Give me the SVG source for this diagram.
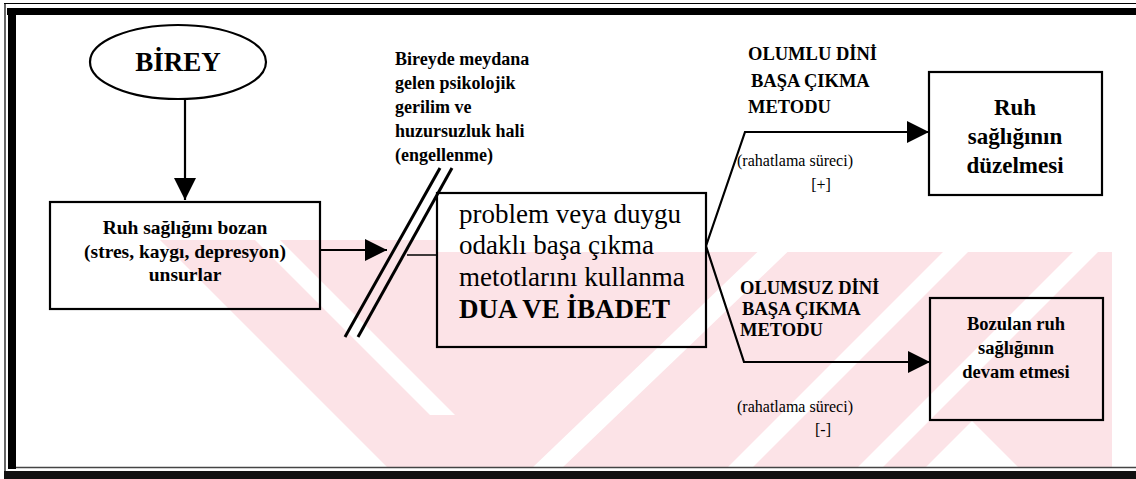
<svg xmlns="http://www.w3.org/2000/svg" width="1136" height="479" viewBox="0 0 1136 479">
<style>
text{font-family:"Liberation Serif","Tinos","Times New Roman","DejaVu Serif","Noto Serif",serif;fill:#000}
.b{font-weight:bold}
.m{text-anchor:middle}
.box{fill:none;stroke:#000;stroke-width:2.2}
.conn{fill:none;stroke:#000;stroke-width:2.2}
.wm{fill:#fce3e7}
.wg{fill:#fff}
</style>
<defs>
<marker id="arr" markerUnits="userSpaceOnUse" markerWidth="24" markerHeight="22" refX="22" refY="11" orient="auto">
<path d="M0,0 L22,11 L0,22 z" fill="#000"/>
</marker>
<clipPath id="wmclip"><polygon points="160,240 437,240 437,252 1112,252 1112,468 160,468"/></clipPath>
</defs>
<rect width="1136" height="479" fill="#fff"/>
<g id="watermark" clip-path="url(#wmclip)">
<polygon class="wm" points="160,240 1112,240 1112,468 388,468 160,240"/>
<polygon class="wg" points="255,240 280,240 455,415 430,415"/>
<polygon class="wg" points="770,240 800,240 562,468 532,468"/>
<polygon class="wg" points="955,240 980,240 752,468 727,468"/>
<polygon class="wg" points="1085,240 1110,240 882,468 857,468"/>
<polygon class="wg" points="925,468 972,421 1019,468"/>
</g>
<g id="frame">
<line x1="4" y1="3.5" x2="1136" y2="3.5" stroke="#000" stroke-width="1.2"/>
<rect x="7" y="8" width="1129" height="7" fill="#000"/>
<line x1="5" y1="3" x2="5" y2="471" stroke="#000" stroke-width="1.2"/>
<rect x="8" y="8" width="8" height="461" fill="#000"/>
<line x1="16" y1="467.5" x2="1136" y2="467.5" stroke="#444" stroke-width="1.5"/>
<rect x="4" y="471" width="1132" height="8" fill="#111"/>
</g>
<g id="connectors">
<line class="conn" x1="185" y1="100" x2="185" y2="200" marker-end="url(#arr)"/>
<line class="conn" x1="320" y1="250" x2="387" y2="250" marker-end="url(#arr)"/>
<line x1="407" y1="255" x2="437" y2="255" stroke="#000" stroke-width="1.5"/>
<line x1="345" y1="337" x2="440" y2="168" stroke="#000" stroke-width="3"/>
<line x1="358" y1="337" x2="452" y2="168" stroke="#000" stroke-width="3"/>
<path class="conn" d="M706,246 L745,132 L929,132" marker-end="url(#arr)"/>
<path class="conn" d="M706,246 L744,362 L930,362" marker-end="url(#arr)"/>
</g>
<g id="birey">
<ellipse cx="178" cy="62" rx="88" ry="37" fill="#fff" stroke="#000" stroke-width="2.2"/>
<text class="b m" x="178" y="71" font-size="27">BİREY</text>
</g>
<g id="stres">
<rect class="box" x="50" y="202" width="270" height="107"/>
<text class="b m" x="185" y="234" font-size="19.5">Ruh sağlığını bozan</text>
<text class="b m" x="185" y="258" font-size="19.5">(stres, kaygı, depresyon)</text>
<text class="b m" x="185" y="281" font-size="19.5">unsurlar</text>
</g>
<g id="gerilim">
<text class="b" x="395" y="65" font-size="18">Bireyde meydana</text>
<text class="b" x="395" y="89" font-size="18">gelen psikolojik</text>
<text class="b" x="395" y="113" font-size="18">gerilim ve</text>
<text class="b" x="395" y="137" font-size="18">huzursuzluk hali</text>
<text class="b" x="395" y="161" font-size="18">(engellenme)</text>
</g>
<g id="basacikma">
<rect class="box" x="437" y="193" width="269" height="154"/>
<text x="459" y="223" font-size="27">problem veya duygu</text>
<text x="459" y="254" font-size="27">odaklı başa çıkma</text>
<text x="459" y="286" font-size="27">metotlarını kullanma</text>
<text class="b" x="459" y="318" font-size="27">DUA VE İBADET</text>
</g>
<g id="olumlu">
<text class="b" x="748" y="60" font-size="18.5">OLUMLU DİNİ</text>
<text class="b" x="751" y="87" font-size="18.5">BAŞA ÇIKMA</text>
<text class="b" x="748" y="113" font-size="18.5">METODU</text>
<text class="m" x="795" y="166" font-size="16">(rahatlama süreci)</text>
<text class="m" x="821" y="190" font-size="16">[+]</text>
</g>
<g id="duzelme">
<rect class="box" x="929" y="72" width="173" height="123"/>
<text class="b m" x="1015" y="115" font-size="23">Ruh</text>
<text class="b m" x="1015" y="144" font-size="23">sağlığının</text>
<text class="b m" x="1015" y="173" font-size="23">düzelmesi</text>
</g>
<g id="olumsuz">
<text class="b" x="740" y="294" font-size="18.5">OLUMSUZ DİNİ</text>
<text class="b" x="742" y="315" font-size="18.5">BAŞA ÇIKMA</text>
<text class="b" x="740" y="336" font-size="18.5">METODU</text>
<text class="m" x="795" y="412" font-size="16">(rahatlama süreci)</text>
<text class="m" x="823" y="435" font-size="16">[-]</text>
</g>
<g id="bozulan">
<rect class="box" x="930" y="298" width="173" height="122"/>
<text class="b m" x="1016" y="330" font-size="18.5">Bozulan ruh</text>
<text class="b m" x="1016" y="354" font-size="18.5">sağlığının</text>
<text class="b m" x="1016" y="378" font-size="18.5">devam etmesi</text>
</g>
</svg>
